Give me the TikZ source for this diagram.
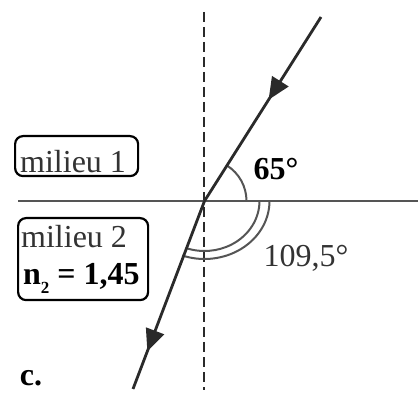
\documentclass[tikz,border=0pt]{standalone}
\usepackage{fontspec}
\setmainfont{Liberation Serif}
\usetikzlibrary{arrows.meta,decorations.markings}
\definecolor{inkline}{HTML}{2A2A2A}
\definecolor{inkgray}{HTML}{555555}
\definecolor{inktext}{HTML}{333333}
\tikzset{
  ray/.style={line width=2.8pt, color=inkline},
  arrowat/.style={postaction={decorate, decoration={markings,
     mark=at position #1 with {\arrow{Triangle[length=22pt,width=19pt]}}}}},
  normale/.style={line width=2.6pt, color=inkline, dash pattern=on 10pt off 5pt},
  interface/.style={line width=2.3pt, color=inkgray},
  anglearc/.style={line width=2pt, color=inkgray},
  lbox/.style={draw=black, line width=2.2pt, rounded corners=8pt},
  regtxt/.style={font=\fontsize{32}{32}\selectfont, text=inktext, inner sep=0pt},
  boldtxt/.style={font=\fontsize{32}{32}\selectfont\bfseries, text=black, inner sep=0pt}
}
\begin{document}
\begin{tikzpicture}[x=1pt,y=1pt]
\useasboundingbox[fill=white] (0,0) rectangle (418,394);
% key points
\coordinate (O) at (204.5,193);
\coordinate (A) at (321,377);
\coordinate (B) at (133,5);
\coordinate (Ntop) at (204,382);
\coordinate (Nbot) at (204,4);
\coordinate (Ileft) at (18,193);
\coordinate (Iright) at (418,193);
% normal and interface
\draw[normale] (Ntop) -- (Nbot);
\draw[interface] (Ileft) -- (Iright);
% angle arcs
\draw[anglearc] (O) ++(42pt,0pt) arc[start angle=0, end angle=57.7, radius=42pt];
\draw[anglearc] (O) ++(55pt,0pt) arc[start angle=0, end angle=-110, x radius=55pt, y radius=50pt];
\draw[anglearc] (O) ++(65pt,0pt) arc[start angle=0, end angle=-110, x radius=65pt, y radius=58pt];
% rays
\draw[ray, arrowat=0.45] (A) -- (O);
\draw[ray, arrowat=0.80] (O) -- (B);
% labels
\node[boldtxt] (a1) at (276,225) {65°};
\node[regtxt] (a2) at (306,136) {109,5°};
\node[boldtxt] (c) at (31,16) {c.};
% boxes
\node[lbox, minimum width=123pt, minimum height=40pt, anchor=north west] (box1) at (14,259) {};
\node[regtxt, anchor=base west] (m1) at (20,221) {milieu 1};
\node[lbox, minimum width=130pt, minimum height=82pt, anchor=north west] (box2) at (17,177) {};
\node[regtxt, anchor=base west] (m2) at (21,146) {milieu 2};
\node[boldtxt, anchor=base west] (n2) at (23,109) {n\raisebox{-9pt}{\fontsize{17}{17}\selectfont 2} = 1,45};
\end{tikzpicture}
\end{document}
